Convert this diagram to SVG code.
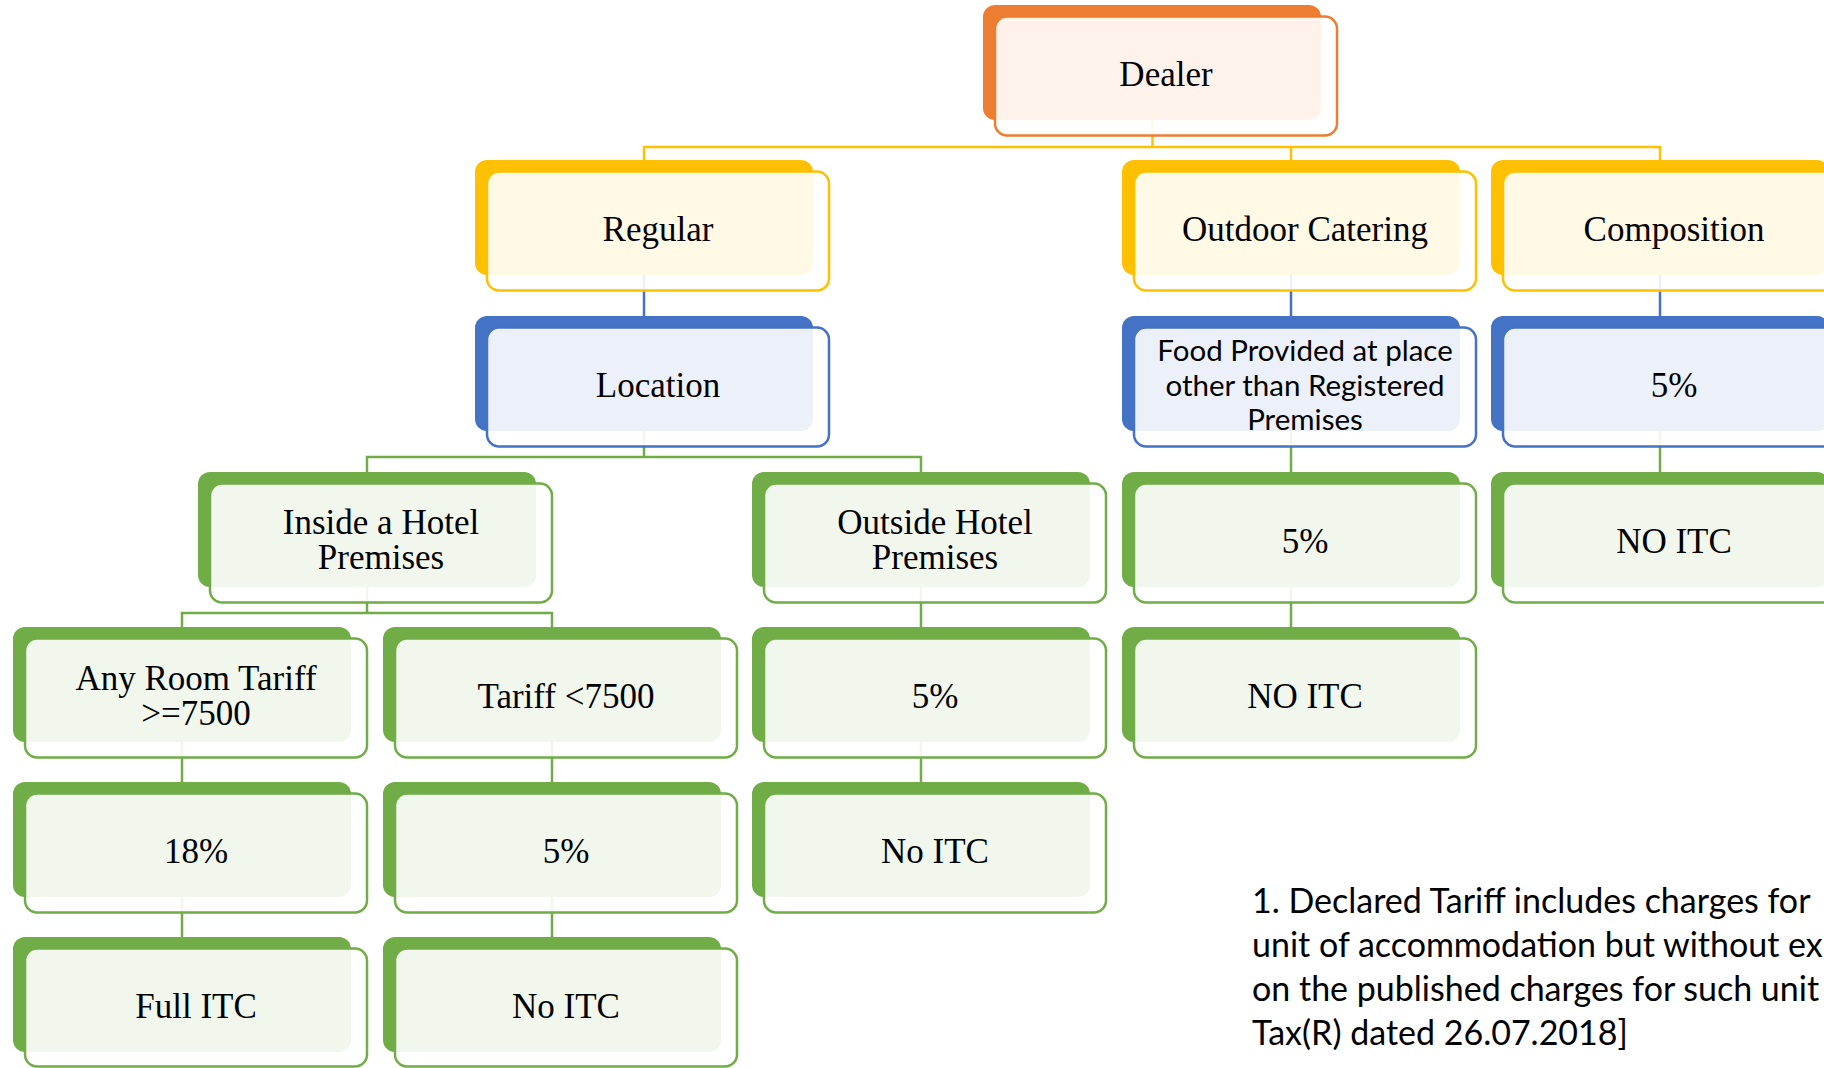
<svg xmlns="http://www.w3.org/2000/svg" width="1824" height="1068" viewBox="0 0 1824 1068">
<style>
.b{stroke:none}
.f{fill:#fff;fill-opacity:.9;stroke-width:2.5}
.o .b{fill:#ED7D31}.o .f{stroke:#ED7D31}
.y .b{fill:#FFC000}.y .f{stroke:#FFC000}
.u .b{fill:#4472C4}.u .f{stroke:#4472C4}
.g .b{fill:#70AD47}.g .f{stroke:#70AD47}
text{font-family:"Liberation Serif","Times New Roman",serif;font-size:35px;text-anchor:middle;fill:#000}
.s{font-family:Lato,"Noto Sans",sans-serif;font-size:29.5px}
.note{font-family:Lato,"Noto Sans",sans-serif;font-size:34px;text-anchor:start}
#connectors path{fill:none;stroke-width:2.5}
.cy{stroke:#FFC000}.cu{stroke:#4472C4}.cg{stroke:#70AD47}
</style>
<rect width="1824" height="1068" fill="#fff"/>
<g id="connectors">
<path class="cy" d="M1152.5 119V147M644 160V147H1660V160M1291 147V160"/>
<path class="cu" d="M644 275V316M1291 275V316M1660 275V316"/>
<path class="cg" d="M644 431V457M367 472V457H921V472M1291 431V472M1660 431V472"/>
<path class="cg" d="M367 587V613M182 627V613H552V627M921 587V627M1291 587V627"/>
<path class="cg" d="M182 742V782M552 742V782M921 742V782M182 897V937M552 897V937"/>
</g>
<g id="dealer" class="o"><rect class="b" x="983" y="5" width="338" height="115" rx="12"/><rect class="f" x="995" y="16.5" width="342" height="119" rx="12"/><text x="1166" y="85.5">Dealer</text></g>
<g id="regular" class="y"><rect class="b" x="475" y="160" width="338" height="115" rx="12"/><rect class="f" x="487" y="171.5" width="342" height="119" rx="12"/><text x="658" y="240.5">Regular</text></g>
<g id="outdoor" class="y"><rect class="b" x="1122" y="160" width="338" height="115" rx="12"/><rect class="f" x="1134" y="171.5" width="342" height="119" rx="12"/><text x="1305" y="240.5">Outdoor Catering</text></g>
<g id="composition" class="y"><rect class="b" x="1491" y="160" width="338" height="115" rx="12"/><rect class="f" x="1503" y="171.5" width="342" height="119" rx="12"/><text x="1674" y="240.5">Composition</text></g>
<g id="location" class="u"><rect class="b" x="475" y="316" width="338" height="115" rx="12"/><rect class="f" x="487" y="327.5" width="342" height="119" rx="12"/><text x="658" y="396.5">Location</text></g>
<g id="food" class="u"><rect class="b" x="1122" y="316" width="338" height="115" rx="12"/><rect class="f" x="1134" y="327.5" width="342" height="119" rx="12"/><text class="s" x="1305"><tspan x="1305" y="360.5">Food Provided at place</tspan><tspan x="1305" y="395.5">other than Registered</tspan><tspan x="1305" y="430">Premises</tspan></text></g>
<g id="composition-rate" class="u"><rect class="b" x="1491" y="316" width="338" height="115" rx="12"/><rect class="f" x="1503" y="327.5" width="342" height="119" rx="12"/><text x="1674" y="396.5">5%</text></g>
<g id="inside" class="g"><rect class="b" x="198" y="472" width="338" height="115" rx="12"/><rect class="f" x="210" y="483.5" width="342" height="119" rx="12"/><text x="381"><tspan x="381" y="534">Inside a Hotel</tspan><tspan x="381" y="569">Premises</tspan></text></g>
<g id="outside" class="g"><rect class="b" x="752" y="472" width="338" height="115" rx="12"/><rect class="f" x="764" y="483.5" width="342" height="119" rx="12"/><text x="935"><tspan x="935" y="534">Outside Hotel</tspan><tspan x="935" y="569">Premises</tspan></text></g>
<g id="outdoor-rate" class="g"><rect class="b" x="1122" y="472" width="338" height="115" rx="12"/><rect class="f" x="1134" y="483.5" width="342" height="119" rx="12"/><text x="1305" y="552.5">5%</text></g>
<g id="composition-itc" class="g"><rect class="b" x="1491" y="472" width="338" height="115" rx="12"/><rect class="f" x="1503" y="483.5" width="342" height="119" rx="12"/><text x="1674" y="552.5">NO ITC</text></g>
<g id="any-room" class="g"><rect class="b" x="13" y="627" width="338" height="115" rx="12"/><rect class="f" x="25" y="638.5" width="342" height="119" rx="12"/><text x="196"><tspan x="196" y="690">Any Room Tariff</tspan><tspan x="196" y="725">&gt;=7500</tspan></text></g>
<g id="tariff-low" class="g"><rect class="b" x="383" y="627" width="338" height="115" rx="12"/><rect class="f" x="395" y="638.5" width="342" height="119" rx="12"/><text x="566" y="707.5">Tariff &lt;7500</text></g>
<g id="outside-rate" class="g"><rect class="b" x="752" y="627" width="338" height="115" rx="12"/><rect class="f" x="764" y="638.5" width="342" height="119" rx="12"/><text x="935" y="707.5">5%</text></g>
<g id="outdoor-itc" class="g"><rect class="b" x="1122" y="627" width="338" height="115" rx="12"/><rect class="f" x="1134" y="638.5" width="342" height="119" rx="12"/><text x="1305" y="707.5">NO ITC</text></g>
<g id="rate-18" class="g"><rect class="b" x="13" y="782" width="338" height="115" rx="12"/><rect class="f" x="25" y="793.5" width="342" height="119" rx="12"/><text x="196" y="862.5">18%</text></g>
<g id="rate-5-low" class="g"><rect class="b" x="383" y="782" width="338" height="115" rx="12"/><rect class="f" x="395" y="793.5" width="342" height="119" rx="12"/><text x="566" y="862.5">5%</text></g>
<g id="outside-itc" class="g"><rect class="b" x="752" y="782" width="338" height="115" rx="12"/><rect class="f" x="764" y="793.5" width="342" height="119" rx="12"/><text x="935" y="862.5">No ITC</text></g>
<g id="full-itc" class="g"><rect class="b" x="13" y="937" width="338" height="115" rx="12"/><rect class="f" x="25" y="948.5" width="342" height="118" rx="12"/><text x="196" y="1017.5">Full ITC</text></g>
<g id="no-itc-low" class="g"><rect class="b" x="383" y="937" width="338" height="115" rx="12"/><rect class="f" x="395" y="948.5" width="342" height="118" rx="12"/><text x="566" y="1017.5">No ITC</text></g>
<g id="footnote"><text class="note" x="1252"><tspan x="1252" y="913">1. Declared Tariff includes charges for</tspan><tspan x="1252" y="957">unit of accommodation but without ex</tspan><tspan x="1252" y="1001">on the published charges for such unit</tspan><tspan x="1252" y="1045">Tax(R) dated 26.07.2018]</tspan></text></g>
</svg>
